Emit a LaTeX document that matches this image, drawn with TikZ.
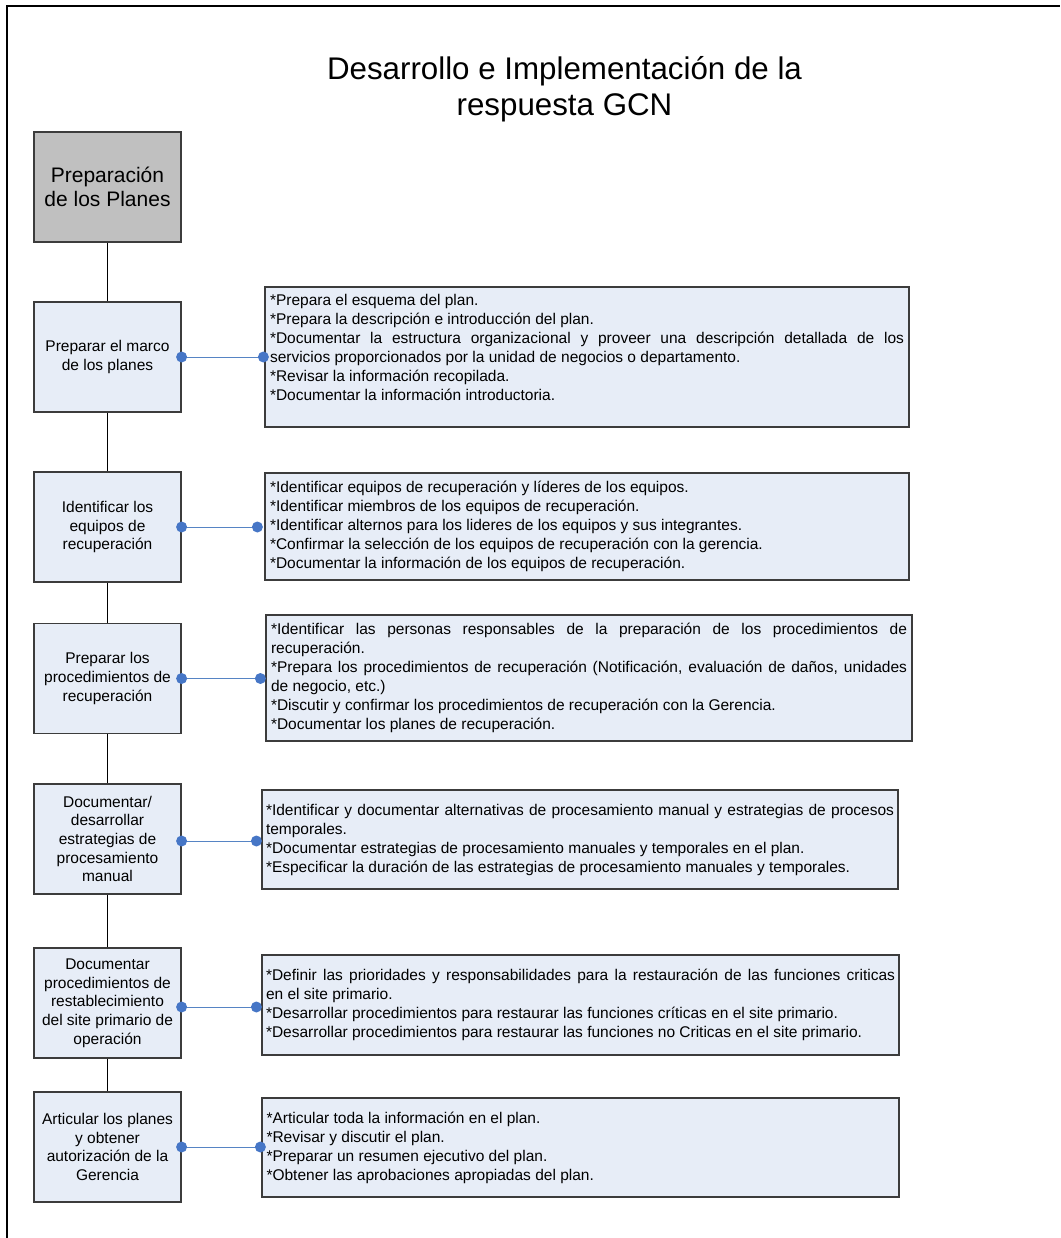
\documentclass[tikz,border=0pt]{standalone}
\usepackage{fontspec}
\setmainfont{Liberation Sans}
\usetikzlibrary{positioning}

\definecolor{boxfill}{RGB}{231,237,247}
\definecolor{headgray}{RGB}{192,192,192}
\definecolor{boxline}{RGB}{60,60,60}
\definecolor{linkblue}{RGB}{86,132,196}
\definecolor{dotblue}{RGB}{70,118,198}

% justified bullet text of a note box; #1 = width in pt
\newcommand\notetext[2]{%
  \parbox{#1pt}{\fontsize{15.5}{19}\selectfont
    \setlength\parindent{0pt}\setlength\parskip{0pt}%
    \hyphenpenalty=10000 \exhyphenpenalty=10000 \emergencystretch=20pt
    #2}}

\tikzset{
  frameline/.style={line width=1.5pt, black},
  headbox/.style={draw=boxline, fill=headgray, line width=1.2pt,
    minimum width=147pt, minimum height=110pt, inner sep=0pt, align=center,
    font=\fontsize{21}{24.5}\selectfont},
  stagebox/.style={draw=boxline, fill=boxfill, line width=1.2pt,
    minimum width=147pt, minimum height=110pt, inner sep=0pt, align=center,
    font=\fontsize{15.5}{18.7}\selectfont},
  notebox/.style={draw=boxline, fill=boxfill, line width=1.2pt, inner sep=0pt},
  spine/.style={line width=0.9pt, black},
  link/.style={line width=1pt, linkblue},
  linkdot/.style={dotblue}
}

\begin{document}
\begin{tikzpicture}[x=1pt, y=-1pt]
\useasboundingbox (0,0) rectangle (1060,1238);

% page frame
\draw[frameline] (7,1238) -- (7,6) -- (1060,6);

% title
\node[align=center, font=\fontsize{31.3}{36.5}\selectfont] (title) at (564.5,89)
  {Desarrollo e Implementación de la\\respuesta GCN};

% stage column
\node[headbox] (head) at (107.5,187) {Preparación\\de los Planes};
\node[stagebox] (s1) at (107.5,357) {Preparar el marco\\de los planes};
\node[stagebox] (s2) at (107.5,527) {Identificar los\\equipos de\\recuperación};
\node[stagebox] (s3) at (107.5,678.5) {Preparar los\\procedimientos de\\recuperación};
\node[stagebox] (s4) at (107.5,839) {Documentar/\\desarrollar\\estrategias de\\procesamiento\\manual};
\node[stagebox] (s5) at (107.5,1003) {Documentar\\procedimientos de\\restablecimiento\\del site primario de\\operación};
\node[stagebox] (s6) at (107.5,1147) {Articular los planes\\y obtener\\autorización de la\\Gerencia};

% spine joining the stage boxes
\draw[spine] (head.south) -- (s1.north);
\draw[spine] (s1.south) -- (s2.north);
\draw[spine] (s2.south) -- (s3.north);
\draw[spine] (s3.south) -- (s4.north);
\draw[spine] (s4.south) -- (s5.north);
\draw[spine] (s5.south) -- (s6.north);

% note boxes
\node[notebox, minimum width=644pt, minimum height=140pt] (n1) at (587,357) {\notetext{634}{%
*Prepara el esquema del plan.\par
*Prepara la descripción e introducción del plan.\par
*Documentar la estructura organizacional y proveer una descripción detallada de los\linebreak
servicios proporcionados por la unidad de negocios o departamento.\par
*Revisar la información recopilada.\par
*Documentar la información introductoria.\par
\mbox{}}};

\node[notebox, minimum width=644pt, minimum height=107pt] (n2) at (587,526.5) {\notetext{634}{%
*Identificar equipos de recuperación y líderes de los equipos.\par
*Identificar miembros de los equipos de recuperación.\par
*Identificar alternos para los lideres de los equipos y sus integrantes.\par
*Confirmar la selección de los equipos de recuperación con la gerencia.\par
*Documentar la información de los equipos de recuperación.}};

\node[notebox, minimum width=646pt, minimum height=126pt] (n3) at (589,678) {\notetext{636}{%
*Identificar las personas responsables de la preparación de los procedimientos de\linebreak
recuperación.\par
*Prepara los procedimientos de recuperación (Notificación, evaluación de daños, unidades\linebreak
de negocio, etc.)\par
*Discutir y confirmar los procedimientos de recuperación con la Gerencia.\par
*Documentar los planes de recuperación.}};

\node[notebox, minimum width=636pt, minimum height=99pt] (n4) at (580,839.5) {\notetext{628}{%
*Identificar y documentar alternativas de procesamiento manual y estrategias de procesos\linebreak
temporales.\par
*Documentar estrategias de procesamiento manuales y temporales en el plan.\par
*Especificar la duración de las estrategias de procesamiento manuales y temporales.}};

\node[notebox, minimum width=637pt, minimum height=100pt] (n5) at (580.5,1005) {\notetext{629}{%
*Definir las prioridades y responsabilidades para la restauración de las funciones criticas\linebreak
en el site primario.\par
*Desarrollar procedimientos para restaurar las funciones críticas en el site primario.\par
*Desarrollar procedimientos para restaurar las funciones no Criticas en el site primario.}};

\node[notebox, minimum width=637pt, minimum height=99pt] (n6) at (580.5,1147.5) {\notetext{628}{%
*Articular toda la información en el plan.\par
*Revisar y discutir el plan.\par
*Preparar un resumen ejecutivo del plan.\par
*Obtener las aprobaciones apropiadas del plan.}};

% blue links with round end points
\path (n1.west |- s1.east) ++(-1,0) coordinate (e1);
\path (n2.west |- s2.east) ++(-7,0) coordinate (e2);
\path (n3.west |- s3.east) ++(-5,0) coordinate (e3);
\path ([yshift=-2pt]n4.west |- s4.east) ++(-5,0) coordinate (e4);
\path ([yshift=-4pt]n5.west |- s5.east) ++(-5,0) coordinate (e5);
\path (n6.west |- s6.east) ++(-1,0) coordinate (e6);
\coordinate (b4) at ([yshift=-2pt]s4.east);
\coordinate (b5) at ([yshift=-4pt]s5.east);

\foreach \a/\b in {s1.east/e1, s2.east/e2, s3.east/e3, b4/e4, b5/e5, s6.east/e6}{
  \draw[link] (\a) -- (\b);
  \fill[linkdot] (\a) circle[radius=5.5pt];
  \fill[linkdot] (\b) circle[radius=5.5pt];
}
\end{tikzpicture}
\end{document}
